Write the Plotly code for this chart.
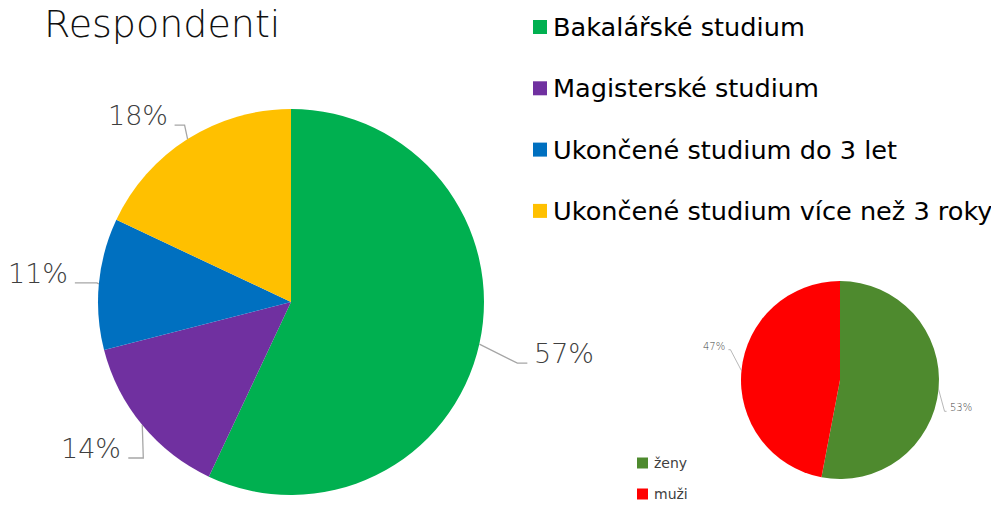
import math
import plotly.graph_objects as go

W, H = 999, 505
OFF = 8  # page body margin around the plot div

# Main pie - respondents by type of study
study_labels = ["Bakalářské studium", "Magisterské studium",
                "Ukončené studium do 3 let", "Ukončené studium více než 3 roky"]
study_values = [57, 14, 11, 18]
study_colors = ["#00B050", "#7030A0", "#0070C0", "#FFC000"]

# Small pie - gender
gender_labels = ["ženy", "muži"]
gender_values = [53, 47]
gender_colors = ["#4E8A2E", "#FF0000"]


def px_x(px):
    return (px - OFF) / W


def px_y(py):
    return 1 - (py - OFF) / H


def domain(cx, cy, r):
    return dict(x=[px_x(cx - r), px_x(cx + r)], y=[px_y(cy + r), px_y(cy - r)])


BIG = dict(cx=291, cy=302, r=193)
SMALL = dict(cx=840, cy=380, r=99)

fig = go.Figure()

fig.add_trace(go.Pie(
    labels=study_labels, values=study_values, sort=False,
    direction="clockwise", rotation=0, textinfo="none",
    marker=dict(colors=study_colors, line=dict(width=0)),
    domain=domain(**BIG), showlegend=False,
))
fig.add_trace(go.Pie(
    labels=gender_labels, values=gender_values, sort=False,
    direction="clockwise", rotation=0, textinfo="none",
    marker=dict(colors=gender_colors, line=dict(width=0)),
    domain=domain(**SMALL), showlegend=False,
))

shapes = []
annotations = []


def pct_labels(geo, values, nudges, hooks, gap, size, lw):
    # leader line: slice edge -> elbow (nudged) -> short horizontal hook,
    # label sits on the hook line like Excel does
    total = sum(values)
    cum = 0
    for v, (nx, ny), hook in zip(values, nudges, hooks):
        mid = (cum + v / 2) / total * 2 * math.pi
        cum += v
        dx, dy = math.sin(mid), -math.cos(mid)
        ex, ey = geo["cx"] + geo["r"] * dx, geo["cy"] + geo["r"] * dy
        bx, by = ex + nx, ey + ny
        side = 1 if dx >= 0 else -1
        hx = bx + side * hook
        shapes.append(dict(
            type="path", xref="paper", yref="paper",
            path=f"M {px_x(ex)},{px_y(ey)} L {px_x(bx)},{px_y(by)} L {px_x(hx)},{px_y(by)}",
            line=dict(color="#A6A6A6", width=lw),
        ))
        annotations.append(dict(
            x=px_x(hx + side * gap), y=px_y(by - size * 0.36), xref="paper", yref="paper",
            text=f"{round(v / total * 100)}%", showarrow=False,
            xanchor="left" if side > 0 else "right", yanchor="middle",
            font=dict(family="DejaVu Sans", size=size, color="#3F3F3F", weight=200),
        ))


pct_labels(BIG, study_values, nudges=[(38, 19), (1, 33), (-2, -1), (-3, -14)],
           hooks=[10, 15, 22, 10], gap=5, size=27, lw=1.3)
pct_labels(SMALL, gender_values, nudges=[(6, 22), (-11, -21)],
           hooks=[2, 2], gap=1, size=10, lw=0.8)


def legend(labels, colors, x0, y0, step, box, size, color):
    for i, (lab, col) in enumerate(zip(labels, colors)):
        yc = y0 + i * step
        shapes.append(dict(
            type="rect", xref="paper", yref="paper",
            x0=px_x(x0), x1=px_x(x0 + box), y0=px_y(yc + box / 2), y1=px_y(yc - box / 2),
            fillcolor=col, line=dict(width=0),
        ))
        annotations.append(dict(
            x=px_x(x0 + box + 4), y=px_y(yc), xref="paper", yref="paper",
            text=lab, showarrow=False, xanchor="left", yanchor="middle",
            font=dict(family="DejaVu Sans", size=size, color=color),
        ))


legend(study_labels, study_colors, 533, 27, 61.3, 14, 25.6, "#000000")
legend(gender_labels, gender_colors, 637, 463, 31, 11, 14, "#404040")

annotations.append(dict(
    x=px_x(42), y=px_y(24), xref="paper", yref="paper",
    text="Respondenti", showarrow=False, xanchor="left", yanchor="middle",
    font=dict(family="DejaVu Sans", size=38, color="#111111", weight=200),
))

fig.update_layout(
    width=W, height=H,
    margin=dict(l=0, r=0, t=0, b=0),
    paper_bgcolor="white", plot_bgcolor="white",
    shapes=shapes, annotations=annotations,
)

fig.write_html("out.html")
